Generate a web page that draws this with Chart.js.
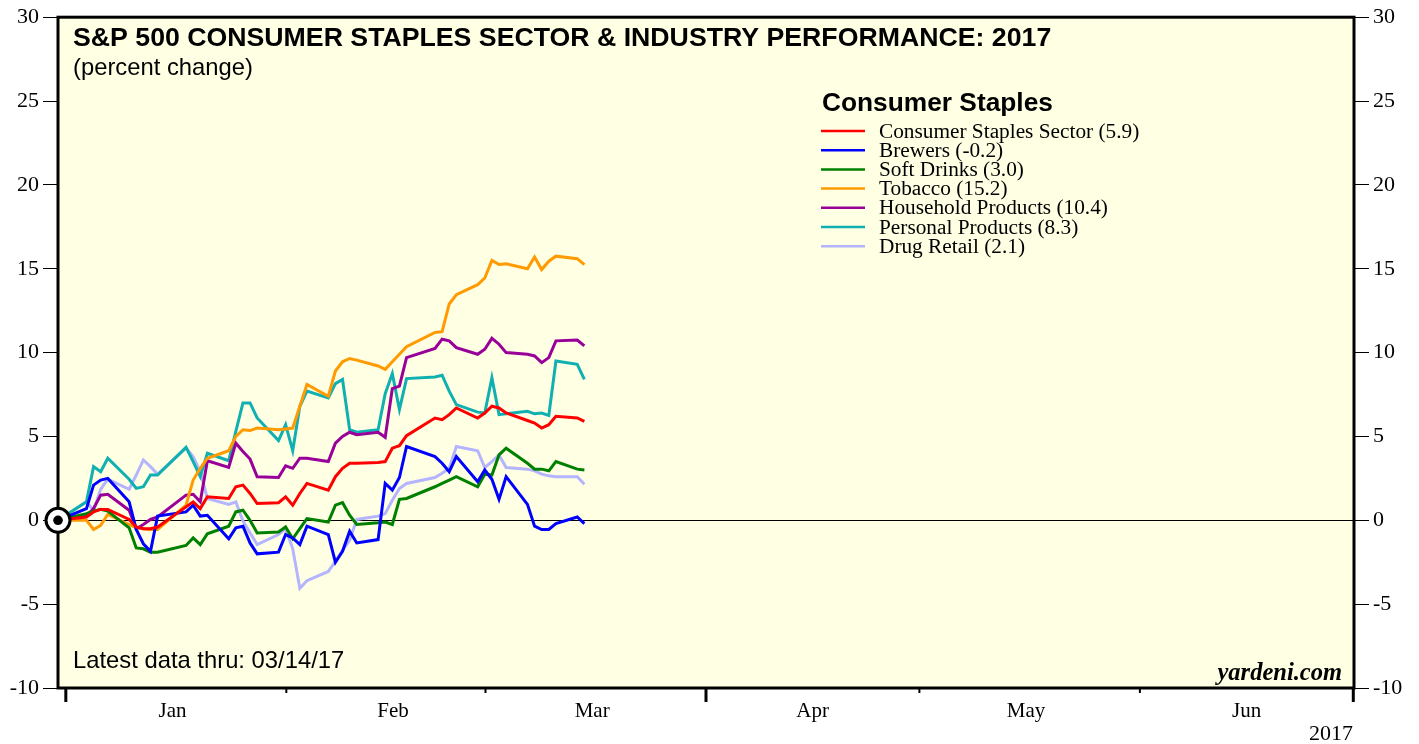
<!DOCTYPE html>
<html>
<head>
<meta charset="utf-8">
<title>S&P 500 Consumer Staples Sector & Industry Performance: 2017</title>
<script src="https://cdn.jsdelivr.net/npm/chart.js@4.4.0/dist/chart.umd.min.js"></script>
<style>
  html, body { margin: 0; padding: 0; background: #ffffff; }
  #wrap { width: 1419px; height: 744px; }
</style>
</head>
<body>
<div id="wrap"><canvas id="staplesChart" width="1419" height="744"></canvas></div>
<script>
// trading days, percent change since 12/30/16
const dates = [
    '2016-12-30', '2017-01-03', '2017-01-04', '2017-01-05', '2017-01-06', '2017-01-09', '2017-01-10',
    '2017-01-11', '2017-01-12', '2017-01-13', '2017-01-17', '2017-01-18', '2017-01-19', '2017-01-20',
    '2017-01-23', '2017-01-24', '2017-01-25', '2017-01-26', '2017-01-27', '2017-01-30', '2017-01-31',
    '2017-02-01', '2017-02-02', '2017-02-03', '2017-02-06', '2017-02-07', '2017-02-08', '2017-02-09',
    '2017-02-10', '2017-02-13', '2017-02-14', '2017-02-15', '2017-02-16', '2017-02-17', '2017-02-21',
    '2017-02-22', '2017-02-23', '2017-02-24', '2017-02-27', '2017-02-28', '2017-03-01', '2017-03-02',
    '2017-03-03', '2017-03-06', '2017-03-07', '2017-03-08', '2017-03-09', '2017-03-10', '2017-03-13',
    '2017-03-14'
];

const sectorValues = [
    0, 0.2, 0.5, 0.65, 0.65, 0.05, -0.4, -0.5, -0.5, -0.4, 0.8, 1.1, 0.7, 1.4,
    1.3, 2.0, 2.1, 1.6, 1.0, 1.05, 1.4, 0.9, 1.6, 2.2, 1.8, 2.6, 3.1, 3.4,
    3.4, 3.45, 3.5, 4.3, 4.45, 5.05, 6.1, 6.0, 6.3, 6.7, 6.1, 6.4, 6.8, 6.7,
    6.4, 5.95, 5.8, 5.5, 5.7, 6.2, 6.1, 5.9
];
const brewersValues = [
    0, 0.7, 2.1, 2.4, 2.5, 1.1, -0.55, -1.4, -1.85, 0.25, 0.5, 0.9, 0.25, 0.3,
    -1.1, -0.45, -0.35, -1.35, -2.0, -1.9, -0.85, -1.05, -1.45, -0.35, -0.85, -2.5, -1.85, -0.65,
    -1.35, -1.15, 2.2, 1.8, 2.55, 4.4, 3.8, 3.4, 2.9, 3.8, 2.3, 3.0, 2.45, 1.25,
    2.6, 0.95, -0.35, -0.55, -0.55, -0.2, 0.2, -0.2
];
const softDrinksValues = [
    0, 0.4, 0.55, 0.65, 0.55, -0.45, -1.65, -1.7, -1.9, -1.9, -1.5, -1.05, -1.45, -0.8,
    -0.35, 0.5, 0.6, 0.0, -0.75, -0.7, -0.4, -1.1, -0.5, 0.1, -0.1, 0.9, 1.05, 0.3,
    -0.25, -0.15, -0.1, -0.25, 1.25, 1.3, 2.0, 2.2, 2.4, 2.6, 2.0, 2.75, 2.7, 3.9,
    4.3, 3.4, 3.05, 3.05, 2.95, 3.5, 3.05, 3.0
];
const tobaccoValues = [
    0, 0.0, -0.55, -0.3, 0.35, -0.25, -0.45, -0.5, -0.55, -0.55, 0.9, 2.4, 3.1, 3.7,
    4.15, 5.0, 5.4, 5.35, 5.5, 5.4, 5.45, 5.5, 6.8, 8.1, 7.4, 8.9, 9.45, 9.65,
    9.55, 9.2, 9.0, 9.45, 9.9, 10.35, 11.2, 11.25, 12.9, 13.45, 14.05, 14.45, 15.5, 15.25,
    15.3, 15.0, 15.7, 14.95, 15.45, 15.75, 15.6, 15.25
];
const householdValues = [
    0, 0.25, 0.7, 1.5, 1.55, 0.6, -0.5, -0.25, 0.05, 0.2, 1.5, 1.55, 1.1, 3.55,
    3.15, 4.6, 4.1, 3.65, 2.6, 2.55, 3.25, 3.1, 3.7, 3.7, 3.5, 4.6, 5.0, 5.25,
    5.1, 5.25, 4.95, 7.85, 8.0, 9.7, 10.25, 10.8, 10.7, 10.3, 9.9, 10.2, 10.85, 10.5,
    10.0, 9.9, 9.8, 9.4, 9.7, 10.7, 10.75, 10.4
];
const personalValues = [
    0, 1.1, 3.2, 2.9, 3.7, 2.45, 1.9, 2.0, 2.7, 2.7, 4.35, 3.5, 2.6, 4.0,
    3.55, 5.3, 7.0, 7.0, 6.1, 4.75, 5.7, 4.15, 6.8, 7.7, 7.3, 8.15, 8.4, 5.4,
    5.25, 5.4, 7.55, 8.75, 6.6, 8.45, 8.55, 8.65, 7.7, 6.9, 6.45, 6.4, 8.5, 6.3,
    6.35, 6.5, 6.35, 6.4, 6.25, 9.5, 9.3, 8.4
];
const drugRetailValues = [
    0, 1.1, 0.6, 1.85, 2.45, 1.85, 2.7, 3.6, 3.2, 2.75, 4.3, 3.8, 2.9, 1.3,
    0.95, 1.1, -0.05, -0.75, -1.45, -0.85, -0.5, -1.7, -4.05, -3.6, -3.05, -2.45, -1.8, -1.2,
    0.05, 0.25, 0.4, 1.2, 1.9, 2.2, 2.55, 2.8, 3.1, 4.4, 4.15, 3.15, 3.5, 3.9,
    3.15, 3.05, 2.95, 2.75, 2.65, 2.6, 2.6, 2.15
];

const seriesLabels = [
    'Consumer Staples Sector (5.9)', 'Brewers (-0.2)', 'Soft Drinks (3.0)', 'Tobacco (15.2)',
    'Household Products (10.4)', 'Personal Products (8.3)', 'Drug Retail (2.1)'
];
const seriesValues = [sectorValues, brewersValues, softDrinksValues, tobaccoValues,
    householdValues, personalValues, drugRetailValues];
const seriesColors = ['#ff0000', '#0000ff', '#008000', '#ff9a00', '#990099', '#10b0b0', '#b4b4ff'];

// x axis: days since Jan 1 2017; month boundaries and mid-month labels
const monthNames = ['Jan', 'Feb', 'Mar', 'Apr', 'May', 'Jun'];
const monthStartDays = [0, 31, 59, 90, 120, 151, 181];
const quarterStartDays = [0, 90, 181];
const yTicks = [-10, -5, 0, 5, 10, 15, 20, 25, 30];

const DAY_MS = 86400000;
const JAN1 = Date.UTC(2017, 0, 1);
function dayNum(s) {
    const p = s.split('-').map(Number);
    return (Date.UTC(p[0], p[1] - 1, p[2]) - JAN1) / DAY_MS;
}
const boundaryShift = -0.9; // month marks sit just before the first close of the month

const serif = 'Liberation Serif, Times New Roman, serif';
const sans = 'Liberation Sans, Arial, Helvetica, sans-serif';

const staplesDecor = {
    id: 'staplesDecor',
    beforeDraw(chart) {
        const { ctx, chartArea: a } = chart;
        ctx.save();
        ctx.fillStyle = '#ffffe4';
        ctx.fillRect(a.left, a.top, a.right - a.left, a.bottom - a.top);
        ctx.restore();
    },
    beforeDatasetsDraw(chart) {
        const { ctx, chartArea: a, scales } = chart;
        const y0 = Math.round(scales.y.getPixelForValue(0)) + 0.5;
        ctx.save();
        ctx.strokeStyle = '#000';
        ctx.lineWidth = 1;
        ctx.beginPath();
        ctx.moveTo(a.left, y0);
        ctx.lineTo(a.right, y0);
        ctx.stroke();
        ctx.restore();
    },
    afterDatasetsDraw(chart) {
        const { ctx, chartArea: a, scales } = chart;
        const xs = scales.x, ys = scales.y;
        ctx.save();

        // frame
        ctx.strokeStyle = '#000';
        ctx.lineWidth = 3;
        ctx.strokeRect(a.left, a.top, a.right - a.left, a.bottom - a.top);

        // month / quarter marks under the frame
        monthStartDays.forEach(d => {
            const px = xs.getPixelForValue(d + boundaryShift);
            const major = quarterStartDays.includes(d);
            ctx.lineWidth = major ? 3 : 2;
            ctx.beginPath();
            ctx.moveTo(px, a.bottom);
            ctx.lineTo(px, a.bottom + (major ? 14 : 5));
            ctx.stroke();
        });

        // start marker
        const cx = xs.getPixelForValue(dayNum(dates[0]));
        const cy = ys.getPixelForValue(0);
        ctx.beginPath();
        ctx.arc(cx, cy, 12, 0, Math.PI * 2);
        ctx.fillStyle = '#fff';
        ctx.fill();
        ctx.lineWidth = 3;
        ctx.stroke();
        ctx.beginPath();
        ctx.arc(cx, cy, 4.8, 0, Math.PI * 2);
        ctx.fillStyle = '#000';
        ctx.fill();

        // titles
        ctx.fillStyle = '#000';
        ctx.textBaseline = 'alphabetic';
        ctx.textAlign = 'left';
        ctx.font = 'bold 26.7px ' + sans;
        ctx.fillText('S&P 500 CONSUMER STAPLES SECTOR & INDUSTRY PERFORMANCE: 2017', a.left + 15, a.top + 29);
        ctx.font = '23.8px ' + sans;
        ctx.fillText('(percent change)', a.left + 15, a.top + 58);
        ctx.fillText('Latest data thru: 03/14/17', a.left + 15, a.bottom - 20);

        ctx.textAlign = 'right';
        ctx.font = 'italic bold 24.5px ' + serif;
        ctx.fillText('yardeni.com', a.right - 12, a.bottom - 8);

        // legend
        const lx = 821;
        ctx.textAlign = 'left';
        ctx.font = 'bold 26.3px ' + sans;
        ctx.fillText('Consumer Staples', lx + 1, 111);
        ctx.font = '21.3px ' + serif;
        ctx.textBaseline = 'middle';
        chart.data.datasets.forEach((ds, i) => {
            const ly = 131 + i * 19.2;
            ctx.strokeStyle = ds.borderColor;
            ctx.lineWidth = 2.5;
            ctx.beginPath();
            ctx.moveTo(lx, ly);
            ctx.lineTo(lx + 44, ly);
            ctx.stroke();
            ctx.fillStyle = '#000';
            ctx.fillText(ds.label, lx + 58, ly + 1);
        });

        // year under the axis
        ctx.textAlign = 'right';
        ctx.textBaseline = 'alphabetic';
        ctx.font = '22px ' + serif;
        ctx.fillText('2017', a.right - 1, 740);
        ctx.restore();
    }
};

const yAxisBase = {
    min: -10,
    max: 30,
    afterBuildTicks: s => { s.ticks = yTicks.map(v => ({ value: v })); },
    ticks: { color: '#000', font: { family: serif, size: 22 }, padding: 4 },
    grid: { drawOnChartArea: false, drawTicks: true, tickLength: 15, color: '#000', lineWidth: 1 },
    border: { display: false }
};

const ctx = document.getElementById('staplesChart').getContext('2d');
new Chart(ctx, {
    type: 'line',
    data: {
        datasets: seriesValues.map((vals, i) => ({
            label: seriesLabels[i],
            data: dates.map((d, j) => ({ x: dayNum(d), y: vals[j] })),
            borderColor: seriesColors[i],
            backgroundColor: seriesColors[i],
            borderWidth: 3,
            pointRadius: 0,
            tension: 0,
            fill: false
        }))
    },
    options: {
        responsive: false,
        animation: false,
        layout: { padding: { top: 15, left: 0, right: 0, bottom: 0 } },
        plugins: { legend: { display: false }, tooltip: { enabled: false } },
        scales: {
            x: {
                type: 'linear',
                min: -2,
                max: 180.2,
                afterBuildTicks: s => { s.ticks = monthStartDays.slice(0, 6).map(d => ({ value: d + 15 + boundaryShift })); },
                ticks: {
                    color: '#000',
                    font: { family: serif, size: 21 },
                    padding: 11,
                    maxRotation: 0,
                    autoSkip: false,
                    callback: (v, i) => monthNames[i]
                },
                grid: { display: false, drawTicks: false },
                border: { display: false },
                afterFit: s => { s.height = 56; }
            },
            y: Object.assign({}, yAxisBase, { position: 'left', afterFit: s => { s.width = 58; } }),
            y2: Object.assign({}, yAxisBase, { position: 'right', afterFit: s => { s.width = 65; } })
        }
    },
    plugins: [staplesDecor]
});
</script>
</body>
</html>
